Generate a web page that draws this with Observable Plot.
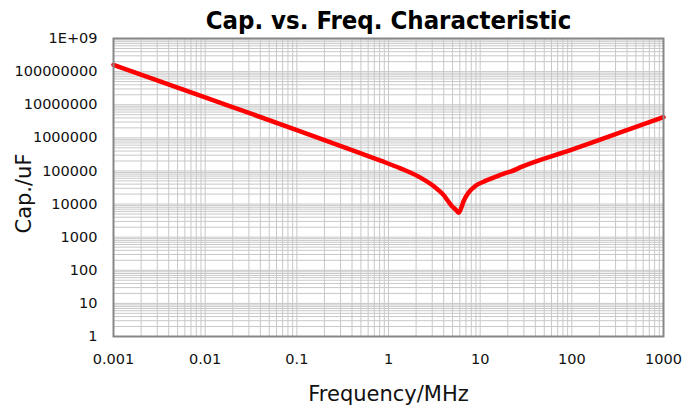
<!DOCTYPE html>
<html><head><meta charset="utf-8">
<script src="https://cdn.jsdelivr.net/npm/d3@7"></script>
<script src="https://cdn.jsdelivr.net/npm/@observablehq/plot@0.6"></script>
<style>body{margin:0;background:#fff}</style>
</head><body><div id="chart"></div>
<script>
const freq = [0.001, 0.01, 0.1, 0.5, 0.82, 1.35, 2.23, 3.1, 4.0, 4.9, 5.4, 5.85, 6.3, 6.6, 7.5, 8.9, 11.4, 14.7, 18.8, 21.4, 28.6, 100, 300, 1000];
const cap  = [1.6e8, 1.67e7, 1.72e6, 3.4e5, 2.04e5, 1.2e5, 6.3e4, 3.5e4, 1.86e4, 8.7e3, 6.8e3, 5.5e3, 8.5e3, 1.23e4, 2.25e4, 3.55e4, 5.0e4, 6.6e4, 8.6e4, 9.5e4, 1.35e5, 4.4e5, 1.3e6, 4.2e6];
const xTicks = [0.001, 0.01, 0.1, 1, 10, 100, 1000];
const xTickLabels = ["0.001", "0.01", "0.1", "1", "10", "100", "1000"];
const yTicks = [1, 10, 100, 1000, 1e4, 1e5, 1e6, 1e7, 1e8, 1e9];
const yTickLabels = ["1", "10", "100", "1000", "10000", "100000", "1000000", "10000000", "100000000", "1E+09"];
const title = "Cap. vs. Freq. Characteristic";
const xLabel = "Frequency/MHz";
const yLabel = "Cap./uF";

const data = freq.map((f, i) => ({f, c: cap[i]}));
const gridOf = (ticks) => {
  const out = [];
  for (let i = 0; i < ticks.length - 1; i++) for (let k = 1; k <= 9; k++) out.push(ticks[i] * k);
  out.push(ticks[ticks.length - 1]);
  return out;
};
const xGrid = gridOf(xTicks);
const yGrid = gridOf(yTicks);

const chart = Plot.plot({
  width: 684, height: 406,
  marginTop: 38, marginBottom: 70, marginLeft: 113, marginRight: 21,
  style: {fontFamily: "'DejaVu Sans', Verdana, sans-serif", fontSize: "14.5px", color: "#111", background: "#fff"},
  x: {type: "log", domain: [0.001, 1000]},
  y: {type: "log", domain: [1, 1e9]},
  marks: [
    Plot.ruleX(xGrid, {x: d => d, stroke: "#c8c8c8", strokeWidth: 1, strokeOpacity: 1}),
    Plot.ruleY(yGrid, {y: d => d, stroke: "#c8c8c8", strokeWidth: 1, strokeOpacity: 1}),
    Plot.line(data, {x: "f", y: "c", stroke: "#ff0000", strokeWidth: 4.5, curve: "monotone-x", strokeLinejoin: "round"}),
    Plot.frame({stroke: "#878787", strokeWidth: 2}),
    Plot.axisX(xTicks, {tickSize: 0, tickPadding: 17, tickFormat: d => xTickLabels[xTicks.indexOf(d)], fontSize: 14.5, label: null}),
    Plot.axisY(yTicks, {tickSize: 0, tickPadding: 16, tickFormat: d => yTickLabels[yTicks.indexOf(d)], fontSize: 14.5, label: null}),
    Plot.text([title], {frameAnchor: "top", lineAnchor: "middle", dy: -18, fontSize: 25.5, fontWeight: "bold", fill: "#000", fontFamily: "'DejaVu Sans Condensed', 'DejaVu Sans', sans-serif"}),
    Plot.text([yLabel], {frameAnchor: "left", textAnchor: "middle", lineAnchor: "middle", dx: -89, dy: 6, rotate: -90, fontSize: 21, fill: "#111"}),
    Plot.text([xLabel], {frameAnchor: "bottom", lineAnchor: "middle", dy: 58, fontSize: 21, fill: "#111"})
  ]
});
document.getElementById("chart").appendChild(chart);
</script>
</body></html>
